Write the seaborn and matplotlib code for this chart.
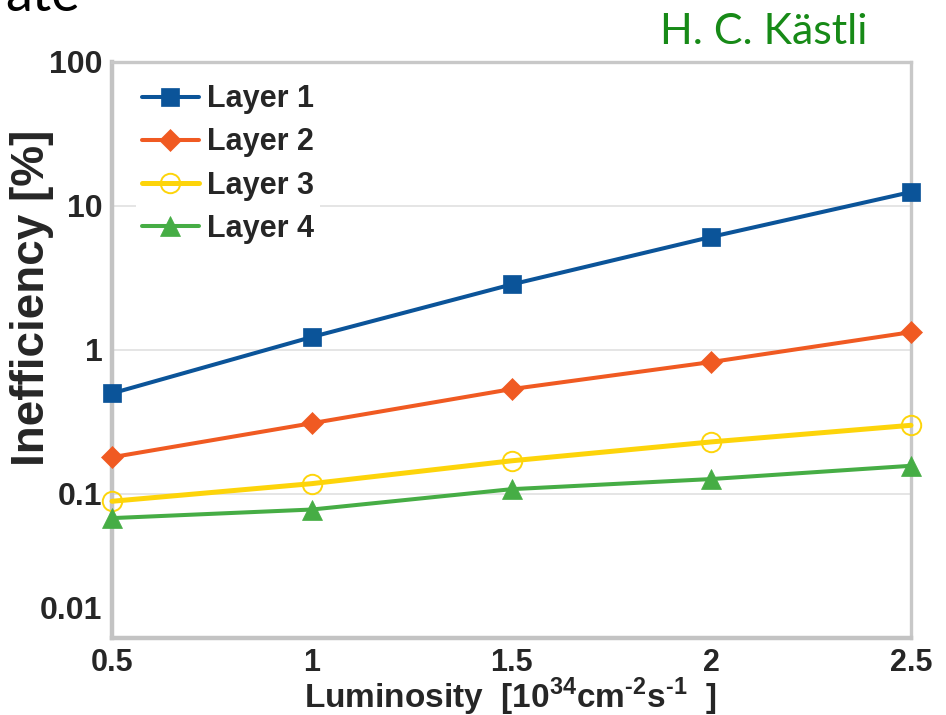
import matplotlib
matplotlib.use("Agg")
import matplotlib.pyplot as plt
import matplotlib.transforms as mtransforms
import seaborn as sns
import pandas as pd

# Luminosity points (10^34 cm^-2 s^-1)
luminosity = [0.5, 1.0, 1.5, 2.0, 2.5]

# Readout inefficiency in percent, per barrel layer
layer1 = [0.50, 1.23, 2.85, 6.1, 12.5]
layer2 = [0.18, 0.31, 0.535, 0.825, 1.33]
layer3 = [0.089, 0.118, 0.170, 0.230, 0.300]
layer4 = [0.068, 0.078, 0.108, 0.127, 0.157]

series_names = ["Layer 1", "Layer 2", "Layer 3", "Layer 4"]
series_values = [layer1, layer2, layer3, layer4]

y_ticks = [0.01, 0.1, 1, 10, 100]
y_tick_labels = ["0.01", "0.1", "1", "10", "100"]
x_ticks = [0.5, 1, 1.5, 2, 2.5]
x_tick_labels = ["0.5", "1", "1.5", "2", "2.5"]

sns.set_theme(style="white")
plt.rcParams["font.family"] = ["Liberation Sans", "DejaVu Sans"]
plt.rcParams["mathtext.fontset"] = "custom"
plt.rcParams["mathtext.bf"] = "Liberation Sans:bold"
plt.rcParams["mathtext.rm"] = "Liberation Sans:bold"

colors = ["#0b5499", "#f05a22", "#fdd40a", "#46ad45"]
styles = [
    dict(marker="s", markersize=13, markerfacecolor=colors[0], markeredgecolor=colors[0], markeredgewidth=0.5),
    dict(marker="D", markersize=11, markerfacecolor=colors[1], markeredgecolor=colors[1], markeredgewidth=0.5),
    dict(marker="o", markersize=14, markerfacecolor="none", markeredgecolor=colors[2], markeredgewidth=1.4),
    dict(marker="^", markersize=14, markerfacecolor=colors[3], markeredgecolor=colors[3], markeredgewidth=0.5),
]
widths = [2.9, 2.9, 3.6, 2.9]

fig = plt.figure(figsize=(9.46, 7.15), dpi=100)
ax = fig.add_axes([0.1184, 0.1077, 0.8446, 0.8056])

for name, vals, col, st, lw in zip(series_names, series_values, colors, styles, widths):
    df = pd.DataFrame({"x": luminosity, "y": vals})
    sns.lineplot(data=df, x="x", y="y", ax=ax, color=col, linewidth=lw,
                 label=name, clip_on=False, zorder=3, **st)

ax.set_yscale("log")
ax.set_ylim(0.01, 100)
ax.set_xlim(0.5, 2.5)
ax.set_yticks(y_ticks)
ax.set_yticklabels(y_tick_labels)
ax.minorticks_off()
ax.set_xticks(x_ticks)
ax.set_xticklabels(x_tick_labels)

# horizontal grid at each decade
ax.yaxis.grid(True, color="#e3e3e3", linewidth=1.3)
ax.xaxis.grid(False)
ax.set_axisbelow(True)

for side in ["left", "bottom"]:
    ax.spines[side].set_color("#c3c3c3")
    ax.spines[side].set_linewidth(3.2)
for side in ["top", "right"]:
    ax.spines[side].set_color("#c8c8c8")
    ax.spines[side].set_linewidth(2.4)

ax.tick_params(axis="y", which="major", direction="out", length=5, width=3.2,
               color="#c3c3c3", labelsize=23, pad=2)
ax.tick_params(axis="x", which="major", direction="out", length=7, width=3.2,
               color="#c3c3c3", labelsize=22, pad=0)
for lab in ax.get_xticklabels() + ax.get_yticklabels():
    lab.set_fontweight("bold")

# the lowest decade label sits above the axis line
low = ax.get_yticklabels()[0]
low.set_transform(low.get_transform() +
                  mtransforms.ScaledTranslation(0, 30 / 100, fig.dpi_scale_trans))

ax.set_ylabel("Inefficiency [%]", fontsize=33, fontweight="bold")
ax.yaxis.set_label_coords(-0.072, 0.59)
ax.set_xlabel("Luminosity  [10$^{\\mathbf{34}}$cm$^{\\mathbf{\u20102}}$s$^{\\mathbf{\u20101}}$  ]",
              fontsize=24, fontweight="bold")
ax.xaxis.set_label_coords(0.498, -0.066)

leg = ax.legend(loc="upper left", bbox_to_anchor=(0.030, 0.972), frameon=True,
                facecolor="white", edgecolor="none", framealpha=1,
                fontsize=22, handlelength=1.85, handletextpad=0.28,
                labelspacing=0.43, borderaxespad=0, borderpad=0.2)
for t in leg.get_texts():
    t.set_fontweight("bold")

# author credit and the tail of the slide heading
fig.text(0.9175, 0.955, "H. C. Kästli", color="#178a17", fontsize=31,
         ha="right", va="center", family=["Lato", "DejaVu Sans"])
fig.text(0.006, 1 - 11 / 715, "ate", color="black", fontsize=39,
         ha="left", va="baseline", family=["Lato", "DejaVu Sans"])

fig.savefig("out.png", dpi=100)
